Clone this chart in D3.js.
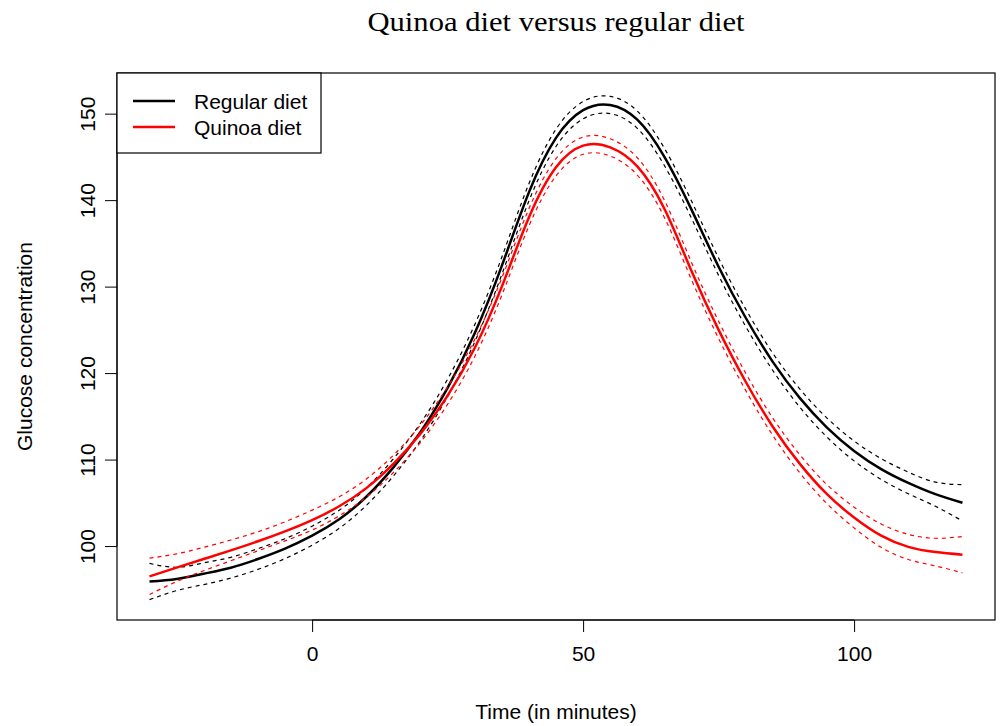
<!DOCTYPE html>
<html>
<head>
<meta charset="utf-8">
<script src="https://cdn.jsdelivr.net/npm/d3@7"></script>
<style>
  body { margin: 0; background: #fff; }
  svg { display: block; }
  text { font-family: "Liberation Sans", Arial, sans-serif; }
</style>
</head>
<body>
<svg id="chart" width="1001" height="726"></svg>
<script>
// ---- data ----
const times = [-30,-25,-20,-15,-10,-5,0,5,10,15,20,25,30,35,40,45,50,55,60,65,70,75,80,85,90,95,100,105,110,115,120];
const regularFit = [95.9,96.2,96.8,97.5,98.5,99.7,101.2,103.1,105.7,109.1,113.2,118.3,124.6,132.4,140.9,147.2,150.4,151.0,149.3,145.0,138.9,132.3,126.4,121.3,117.1,113.7,111.0,108.9,107.3,106.0,105.0];
const regularHalfWidth = [2.1,1.35,1.25,1.2,1.2,1.15,1.1,1.05,1.0,1.0,1.0,1.0,1.0,1.0,1.0,1.0,1.0,1.0,1.0,1.0,1.0,1.0,1.0,1.0,1.05,1.1,1.15,1.2,1.25,1.4,2.1];
const quinoaFit = [96.5,97.5,98.5,99.5,100.55,101.7,103.0,104.6,106.7,109.5,113.0,117.4,122.9,130.0,138.0,143.8,146.3,146.1,143.9,139.0,131.8,125.0,119.0,113.8,109.5,106.0,103.3,101.2,99.9,99.3,99.0];
const quinoaHalfWidth = [2.1,1.6,1.35,1.2,1.1,1.1,1.15,1.1,1.05,1.0,1.0,1.0,1.0,1.0,1.0,1.0,1.0,1.0,1.0,1.0,1.0,1.0,1.0,1.0,1.05,1.1,1.2,1.35,1.45,1.6,2.1];
const xTicks = [0, 50, 100];
const yTicks = [100, 110, 120, 130, 140, 150];
const seriesNames = ["Regular diet", "Quinoa diet"];
const seriesColors = ["#000000", "#ff0000"];
const titleText = "Quinoa diet versus regular diet";
const xLabel = "Time (in minutes)";
const yLabel = "Glucose concentration";

// ---- layout ----
const svg = d3.select("#chart");
const L = 117, R = 995, T = 73, B = 620;
const x = d3.scaleLinear().domain([-36, 126]).range([L, R]);
const y = d3.scaleLinear().domain([91.45, 154.7]).range([B, T]);

const series = [
  { fit: regularFit, hw: regularHalfWidth, color: seriesColors[0] },
  { fit: quinoaFit, hw: quinoaHalfWidth, color: seriesColors[1] }
];

const line = d3.line()
  .x(d => x(d[0])).y(d => y(d[1]))
  .curve(d3.curveNatural);

const plot = svg.append("g");
series.forEach(s => {
  const upper = times.map((t, i) => [t, s.fit[i] + s.hw[i]]);
  const lower = times.map((t, i) => [t, s.fit[i] - s.hw[i]]);
  const center = times.map((t, i) => [t, s.fit[i]]);
  [upper, lower].forEach(pts => {
    plot.append("path").attr("d", line(pts))
      .attr("fill", "none").attr("stroke", s.color)
      .attr("stroke-width", 1.2).attr("stroke-dasharray", "4,4");
  });
  plot.append("path").attr("d", line(center))
    .attr("fill", "none").attr("stroke", s.color).attr("stroke-width", 2.5);
});

// box
svg.append("rect").attr("x", L).attr("y", T).attr("width", R - L).attr("height", B - T)
  .attr("fill", "none").attr("stroke", "#000").attr("stroke-width", 1.2);

// x axis
const xAxis = d3.axisBottom(x).tickValues(xTicks).tickSize(12).tickPadding(14).tickFormat(d3.format("d"));
const gx = svg.append("g").attr("transform", `translate(0,${B})`).call(xAxis);
gx.select(".domain").attr("d", `M${x(xTicks[0])},0H${x(xTicks[xTicks.length-1])}`);
gx.selectAll("text").attr("font-size", 21).attr("fill", "#000");
gx.selectAll("line").attr("stroke", "#000");

// y axis
const yAxis = d3.axisLeft(y).tickValues(yTicks).tickSize(12).tickPadding(0).tickFormat(d3.format("d"));
const gy = svg.append("g").attr("transform", `translate(${L},0)`).call(yAxis);
gy.select(".domain").attr("d", `M0,${y(yTicks[0])}V${y(yTicks[yTicks.length-1])}`);
gy.selectAll("line").attr("stroke", "#000");
gy.selectAll("text")
  .attr("font-size", 21).attr("fill", "#000")
  .attr("text-anchor", "middle").attr("x", null).attr("dy", null)
  .attr("transform", "translate(-22,0) rotate(-90)")
  .attr("y", 0);

// axis titles
svg.append("text").attr("x", (L + R) / 2).attr("y", 719).attr("text-anchor", "middle")
  .attr("font-size", 21).text(xLabel);
svg.append("text").attr("transform", `translate(32,${(T + B) / 2}) rotate(-90)`)
  .attr("text-anchor", "middle").attr("font-size", 21).text(yLabel);

// title
svg.append("text").attr("x", (L + R) / 2).attr("y", 31).attr("text-anchor", "middle")
  .style("font-family", "'Liberation Serif', 'DejaVu Serif', serif")
  .attr("font-size", 28).attr("textLength", 377).attr("lengthAdjust", "spacingAndGlyphs")
  .text(titleText);

// legend
const lg = svg.append("g");
lg.append("rect").attr("x", L).attr("y", T).attr("width", 204).attr("height", 80)
  .attr("fill", "#fff").attr("stroke", "#000").attr("stroke-width", 1.2);
seriesNames.forEach((name, i) => {
  const cy = 101 + i * 26;
  lg.append("line").attr("x1", 133).attr("x2", 175).attr("y1", cy).attr("y2", cy)
    .attr("stroke", seriesColors[i]).attr("stroke-width", 2.5);
  lg.append("text").attr("x", 194).attr("y", cy + 7.5).attr("font-size", 21).text(name);
});
</script>
</body>
</html>
